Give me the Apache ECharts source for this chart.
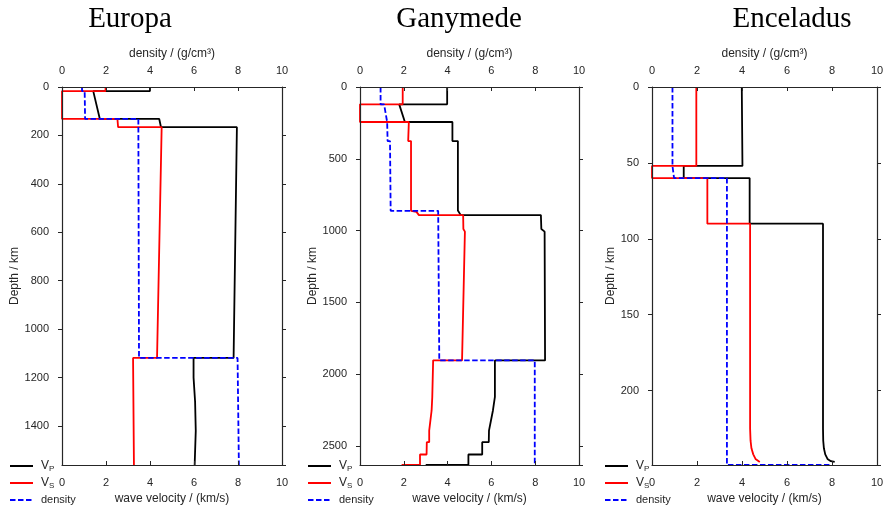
<!DOCTYPE html>
<html>
<head>
<meta charset="utf-8">
<script src="https://cdn.jsdelivr.net/npm/echarts@6/dist/echarts.min.js"></script>
<style>
    html, body { margin: 0; padding: 0; background: #fff; }
    #chart { width: 883px; height: 507px; }
</style>
</head>
<body>
<div id="chart"></div>
<script>
// profiles as [value, depth in km]; velocities in km/s, density in g/cm3
let europaVp = [[4.0, 0], [4.0, 17], [1.42, 17], [1.72, 132], [4.42, 132], [4.5, 166], [7.95, 166], [7.8, 1119], [5.98, 1119], [5.98, 1200], [6.05, 1300], [6.08, 1420], [6.03, 1561]];
let europaVs = [[1.98, 0], [1.98, 17], [0, 17], [0, 132], [2.52, 132], [2.55, 166], [4.53, 166], [4.32, 1119], [3.23, 1119], [3.27, 1561]];
let europaRho = [[0.91, 0], [0.91, 17], [1.03, 17], [1.05, 132], [3.47, 132], [3.5, 1119], [7.98, 1119], [8.04, 1561]];

let ganymedeVp = [[3.98, 0], [3.98, 121], [1.79, 121], [2.05, 244], [4.22, 244], [4.22, 377], [4.47, 377], [4.47, 860], [4.6, 893], [8.26, 893], [8.28, 990], [8.43, 1008], [8.45, 1905], [6.16, 1905], [6.16, 2160], [6.07, 2254], [5.98, 2324], [5.89, 2394], [5.88, 2475], [5.58, 2475], [5.58, 2561], [4.95, 2561], [4.95, 2634], [3.0, 2634]];
let ganymedeVs = [[1.95, 0], [1.95, 121], [0, 121], [0, 244], [2.23, 244], [2.2, 377], [2.33, 377], [2.33, 863], [2.58, 870], [2.69, 893], [4.71, 893], [4.72, 990], [4.79, 1008], [4.66, 1905], [3.34, 1905], [3.3, 2161], [3.27, 2254], [3.16, 2394], [3.16, 2475], [3.05, 2475], [3.04, 2561], [2.74, 2561], [2.74, 2634], [1.9, 2634]];
let ganymedeRho = [[0.94, 0], [0.94, 121], [1.1, 121], [1.24, 244], [1.26, 377], [1.37, 377], [1.4, 863], [3.57, 863], [3.62, 1905], [7.98, 1905], [7.98, 2634]];

let enceladusVp = [[3.99, 0], [4.02, 52], [1.41, 52], [1.41, 60], [4.34, 60], [4.34, 90], [7.6, 90], [7.6, 225], [7.61, 233], [7.64, 238], [7.7, 242], [7.8, 245], [7.95, 246.5], [8.12, 247]];
let enceladusVs = [[1.97, 0], [1.97, 52], [0, 52], [0, 60], [2.46, 60], [2.46, 90], [4.36, 90], [4.36, 225], [4.38, 233], [4.42, 238], [4.5, 242], [4.6, 245], [4.79, 247]];
let enceladusRho = [[0.91, 0], [0.91, 52], [0.98, 52], [0.98, 60], [3.33, 60], [3.33, 249], [7.9, 249]];

let seriesNames = ['VP', 'VS', 'density'];
let seriesColors = ['#000000', '#ff0000', '#0000ff'];

let panels = [
    { title: 'Europa', titleX: 130, left: 62, width: 220, maxDepth: 1561, interval: 200, nameGap: 37.5, legendX: 9, data: [europaVp, europaVs, europaRho] },
    { title: 'Ganymede', titleX: 459, left: 360, width: 219, maxDepth: 2634, interval: 500, nameGap: 38, legendX: 307, data: [ganymedeVp, ganymedeVs, ganymedeRho] },
    { title: 'Enceladus', titleX: 792, left: 652, width: 225, maxDepth: 249, interval: 50, nameGap: 34.5, legendX: 604, data: [enceladusVp, enceladusVs, enceladusRho] }
];

let textColor = '#262626';
let labelFont = { color: textColor, fontSize: 11, fontFamily: 'Liberation Sans', formatter: function (v) { return String(v); } };
let nameFont = { color: textColor, fontSize: 12, fontFamily: 'Liberation Sans' };
let axisLine = { show: true, onZero: false, lineStyle: { color: textColor, width: 1.2 } };

function addPanel(option, i, p) {
    option.title.push({
        text: p.title, left: p.titleX, top: 5, padding: 0, textAlign: 'center',
        textStyle: { fontFamily: 'Liberation Serif', fontSize: 29, fontWeight: 'normal', color: '#000' }
    });
    option.grid.push({ left: p.left, top: 87, width: p.width, height: 378, outerBoundsMode: 'none', containLabel: false });

    // bottom: velocity, top: density
    option.xAxis.push({
        gridIndex: i, type: 'value', position: 'bottom', min: 0, max: 10, interval: 2, z: 3,
        name: 'wave velocity / (km/s)', nameLocation: 'middle', nameGap: 26, nameTextStyle: nameFont,
        axisLine: axisLine, axisTick: { show: true, inside: true, length: 4, lineStyle: { color: textColor } },
        axisLabel: Object.assign({ margin: 12 }, labelFont), splitLine: { show: false }
    });
    option.xAxis.push({
        gridIndex: i, type: 'value', position: 'top', min: 0, max: 10, interval: 2, z: 3,
        name: 'density / (g/cm³)', nameLocation: 'middle', nameGap: 20, nameTextStyle: nameFont,
        axisLine: axisLine, axisTick: { show: true, inside: true, length: 4, lineStyle: { color: textColor } },
        axisLabel: Object.assign({ margin: 11 }, labelFont), splitLine: { show: false }
    });
    option.yAxis.push({
        gridIndex: i, type: 'value', inverse: true, min: 0, max: p.maxDepth, interval: p.interval, z: 3,
        name: 'Depth / km', nameLocation: 'middle', nameGap: p.nameGap, nameTextStyle: nameFont,
        axisLine: axisLine, axisTick: { show: true, length: 4, lineStyle: { color: textColor } },
        axisLabel: Object.assign({ margin: 13, showMaxLabel: false }, labelFont), splitLine: { show: false }
    });
    option.yAxis.push({
        gridIndex: i, type: 'value', position: 'right', inverse: true, min: 0, max: p.maxDepth, interval: p.interval, z: 3,
        axisLine: axisLine, axisTick: { show: true, length: 4, lineStyle: { color: textColor } },
        axisLabel: { show: false }, splitLine: { show: false }
    });

    for (let k = 0; k < 3; k++) {
        option.series.push({
            name: seriesNames[k], type: 'line', data: p.data[k],
            xAxisIndex: k == 2 ? 2 * i + 1 : 2 * i, yAxisIndex: 2 * i,
            symbol: 'none', showSymbol: false, silent: true, z: 2,
            color: seriesColors[k],
            itemStyle: { opacity: 0 },
            lineStyle: { color: seriesColors[k], width: 1.8, type: k == 2 ? [5.5, 2.5] : 'solid' }
        });
    }

    option.legend.push({
        data: seriesNames, orient: 'vertical', left: p.legendX, top: 459, padding: 0,
        itemWidth: 23, itemHeight: 14, itemGap: 3, selectedMode: false,
        itemStyle: { opacity: 0 },
        formatter: function (name) {
            if (name == 'VP') return '{v|V}{s|P}';
            if (name == 'VS') return '{v|V}{s|S}';
            return name;
        },
        textStyle: {
            color: textColor, fontSize: 11, fontFamily: 'Liberation Sans', lineHeight: 14, padding: [0, 0, 0, 3],
            rich: {
                v: { fontSize: 12, lineHeight: 14, color: textColor },
                s: { fontSize: 8, lineHeight: 7, verticalAlign: 'bottom', color: textColor }
            }
        }
    });
}

var dom = document.getElementById('chart');
var myChart = echarts.init(dom, null, { renderer: 'canvas' });

var option = { animation: false, backgroundColor: '#fff', title: [], grid: [], xAxis: [], yAxis: [], legend: [], series: [] };
for (let i = 0; i < panels.length; i++) {
    addPanel(option, i, panels[i]);
}
myChart.setOption(option);
</script>
</body>
</html>
